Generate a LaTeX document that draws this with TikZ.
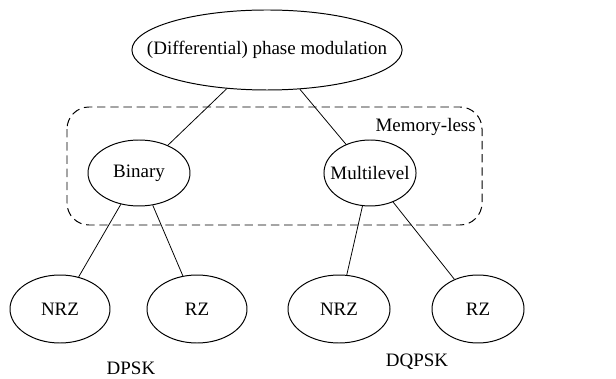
\documentclass[tikz,border=0pt]{standalone}
\usepackage{fontspec}
\setmainfont{Liberation Serif}
\usetikzlibrary{shapes.geometric}
\tikzset{
  oval/.style={draw, ellipse, inner sep=0pt, line width=0.7pt},
  memgroup/.style={draw, dash pattern=on 0.21cm off 0.12cm, rounded corners=0.55cm, line width=0.7pt}
}
\begin{document}
\begin{tikzpicture}[x=0.025cm, y=-0.025cm, font=\fontsize{13.5}{16}\selectfont]
      \useasboundingbox (0,0) rectangle (616,379);
      \draw[memgroup] (67,107) rectangle (482,225);
      \draw
        (267,50) node[oval, inner xsep=-24.5*0.025cm, minimum height=80*0.025cm] (top){(Differential) phase modulation}
        (139,173) node[oval, minimum width=102*0.025cm, minimum height=66*0.025cm] (bin){Binary}
        (370,173) node[oval, inner xsep=-7*0.025cm, minimum height=66*0.025cm] (mul){Multilevel}
        (60,309) node[oval, minimum width=100*0.025cm, minimum height=68*0.025cm] (nrz1){NRZ}
        (197,309) node[oval, minimum width=100*0.025cm, minimum height=68*0.025cm] (rz1){RZ}
        (339,309) node[oval, minimum width=102*0.025cm, minimum height=68*0.025cm] (nrz2){NRZ}
        (478,309) node[oval, minimum width=92*0.025cm, minimum height=68*0.025cm] (rz2){RZ}
        (476,127) node[anchor=east, inner sep=0pt] (mem){Memory-less}
        (131,368) node (dpsk){DPSK}
        (417,362) node (dqpsk){DQPSK};
      \begin{scope}[-, line width=0.55pt]
        \draw (top) to (bin);
        \draw (top) to (mul);
        \draw (bin) to (nrz1);
        \draw (bin) to (rz1);
        \draw (mul) to (nrz2);
        \draw (mul) to (rz2);
      \end{scope}
    \end{tikzpicture}
\end{document}
